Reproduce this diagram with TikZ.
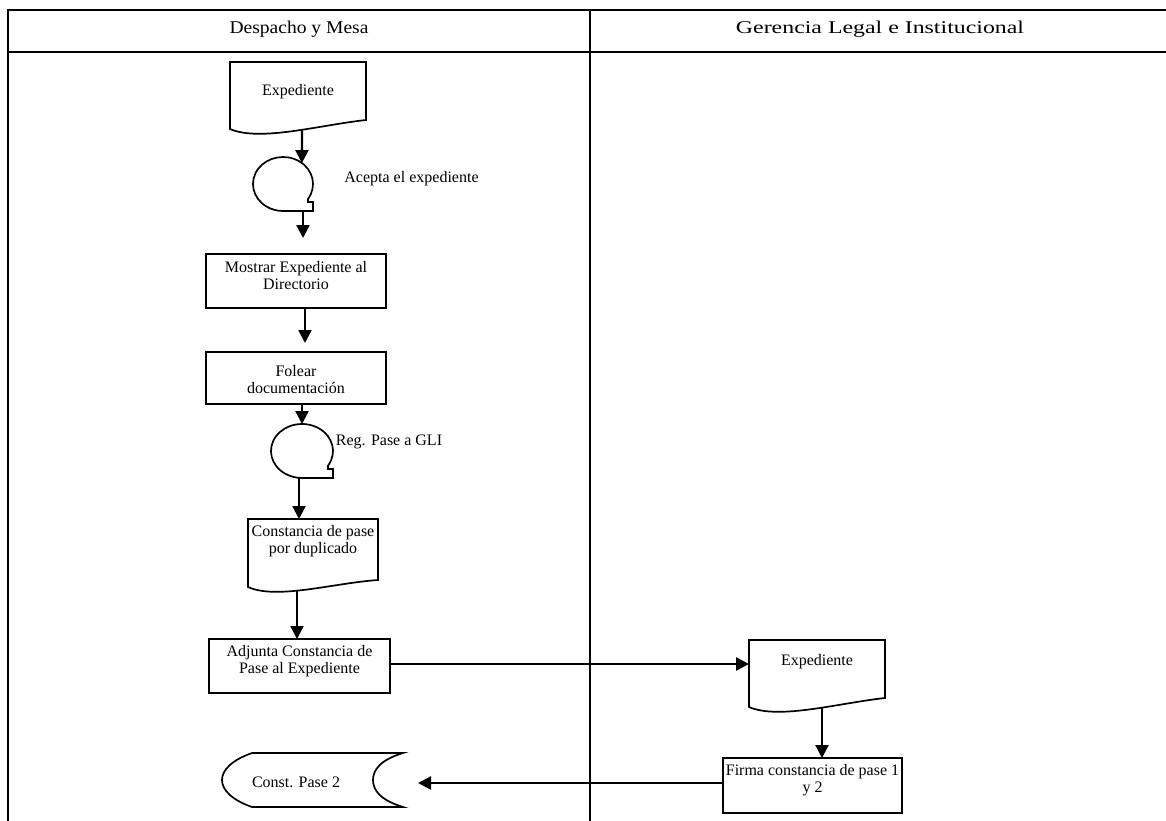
\documentclass[tikz,border=0pt]{standalone}
\usepackage{fontspec}
\setmainfont{Liberation Serif}
\usetikzlibrary{arrows.meta,calc,shapes.geometric}

\newcommand\bodyfont{\fontsize{16}{17.5}\selectfont}
\newcommand\headfont{\fontsize{18}{21}\selectfont}

% document symbol: rectangle with a wavy lower edge (node, rise of the right corner)
\newcommand\docoutline[2]{%
  \draw[outline] (#1.north west) -- (#1.north east) -- ($(#1.south east)+(0,-#2)$)
    .. controls ($(#1.south west)!0.66!(#1.south east)+(0,-4)$)
           and ($(#1.south west)!0.22!(#1.south east)+(0,13)$) .. (#1.south west) -- cycle;}

% sequential storage symbol: ellipse with a tail at the lower right (node, x radius, y radius)
\newcommand\tapeoutline[3]{%
  \draw[outline] ($(#1.center)+({#2pt-5pt},{-#3pt*sin(acos((#2-5)/#2))})$)
    arc[start angle={-acos((#2-5)/#2)}, end angle=270, x radius=#2pt, y radius=#3pt]
    -- ++(#2pt,0) -- ++(0,9pt) -- ++(-5pt,0) -- cycle;}

\tikzset{
  outline/.style={line width=1.7pt, line join=miter},
  box/.style={draw, rectangle, line width=1.7pt, inner sep=0pt, outer sep=0pt},
  frame/.style={rectangle, inner sep=0pt, outer sep=0pt},
  tape/.style={ellipse, inner sep=0pt, outer sep=0pt},
  txt/.style={align=center, font=\bodyfont, inner sep=0pt},
  head/.style={font=\headfont, inner sep=0pt},
  lane/.style={line width=2.4pt, line join=miter},
  arr/.style={line width=2.3pt, -{Triangle[length=13pt,width=13pt]}},
}

\begin{document}
\begin{tikzpicture}[x=1pt,y=-1pt]
\useasboundingbox (0,0) rectangle (1166,821);

% swimlane table
\draw[lane] (1170,10) -- (8,10) -- (8,823);
\draw[lane] (8,52) -- (1170,52);
\draw[lane] (590,10) -- (590,823);
\node[head] (lane1) at (299,29.5) {\scalebox{1.086}[1]{Despacho y Mesa}};
\node[head] (lane2) at (880,29.5) {\scalebox{1.325}[1]{Gerencia Legal e Institucional}};

% shapes
\node[frame, minimum width=136pt, minimum height=67pt] (exp1) at (298,95.5) {};
\docoutline{exp1}{9}
\node[txt] (exp1t) at (298,92) {Expediente};

\node[tape, minimum width=60pt, minimum height=54pt] (tape1) at (283,184) {};
\tapeoutline{tape1}{30}{27}
\node[txt] (acepta) at (411.5,179) {Acepta el expediente};

\node[box, minimum width=180pt, minimum height=54pt] (mostrar) at (296,281) {};
\node[txt] (mostrart) at (296,275.5) {Mostrar Expediente al\\Directorio};

\node[box, minimum width=180pt, minimum height=52pt] (folear) at (296,378) {};
\node[txt] (foleart) at (296,379.5) {Folear\\documentación};

\node[tape, minimum width=62pt, minimum height=54pt] (tape2) at (302,451) {};
\tapeoutline{tape2}{31}{27}
\node[txt] (regpase) at (389,442) {Reg. Pase a GLI};

\node[frame, minimum width=130pt, minimum height=68pt] (constancia) at (313,553) {};
\docoutline{constancia}{7}
\node[txt] (constanciat) at (313,541) {Constancia de pase\\por duplicado};

\node[box, minimum width=181pt, minimum height=54pt] (adjunta) at (299.5,666) {};
\node[txt] (adjuntat) at (299.5,661) {Adjunta Constancia de\\Pase al Expediente};

\node[frame, minimum width=136pt, minimum height=67pt] (exp2) at (817,673.5) {};
\docoutline{exp2}{9}
\node[txt] (exp2t) at (817,662) {Expediente};

\node[box, minimum width=179pt, minimum height=55pt] (firma) at (812.5,785.5) {};
\node[txt] (firmat) at (812.5,780) {Firma constancia de pase 1\\y 2};

\node[frame, minimum width=181pt, minimum height=54pt] (const2) at (312.5,780) {};
\draw[outline] ($(const2.north west)+(30,0)$) -- (const2.north east)
  .. controls ($(const2.north east)+(-23,7)$) and ($(const2.east)+(-30,-10)$) .. ($(const2.east)+(-30,0)$)
  .. controls ($(const2.east)+(-30,10)$) and ($(const2.south east)+(-23,-7)$) .. (const2.south east)
  -- ($(const2.south west)+(30,0)$)
  .. controls ($(const2.south west)+(10,-7)$) and ($(const2.west)+(0,10)$) .. (const2.west)
  .. controls ($(const2.west)+(0,-10)$) and ($(const2.north west)+(10,7)$) .. ($(const2.north west)+(30,0)$)
  -- cycle;
\node[txt] (const2t) at (296,782) {Const. Pase 2};

% connectors
\coordinate (a1) at ($(exp1.south)+(4,1.5)$);
\draw[arr] (a1) -- (tape1.48);
\coordinate (a2) at ($(tape1.south)+(20,0)$);
\draw[arr, shorten >=16pt] (a2) -- (a2 |- mostrar.north);
\coordinate (a3) at ($(mostrar.south)+(9,0)$);
\draw[arr, shorten >=9pt] (a3) -- (a3 |- folear.north);
\draw[arr] (folear.south -| tape2.north) -- (tape2.north);
\coordinate (a5) at ($(tape2.south)+(-3,0)$);
\draw[arr] (a5) -- (a5 |- constancia.north);
\coordinate (a6) at ($(constancia.south)+(-16,3.5)$);
\draw[arr] (a6) -- (a6 |- adjunta.north);
\coordinate (a7) at ($(adjunta.east)+(0,-2)$);
\draw[arr] (a7) -- (a7 -| exp2.west);
\coordinate (a8) at ($(exp2.south)+(5,1.2)$);
\draw[arr] (a8) -- (a8 |- firma.north);
\coordinate (a9) at ($(firma.west)+(0,-2.5)$);
\draw[arr, shorten >=15pt] (a9) -- (a9 -| const2.east);
\end{tikzpicture}
\end{document}
